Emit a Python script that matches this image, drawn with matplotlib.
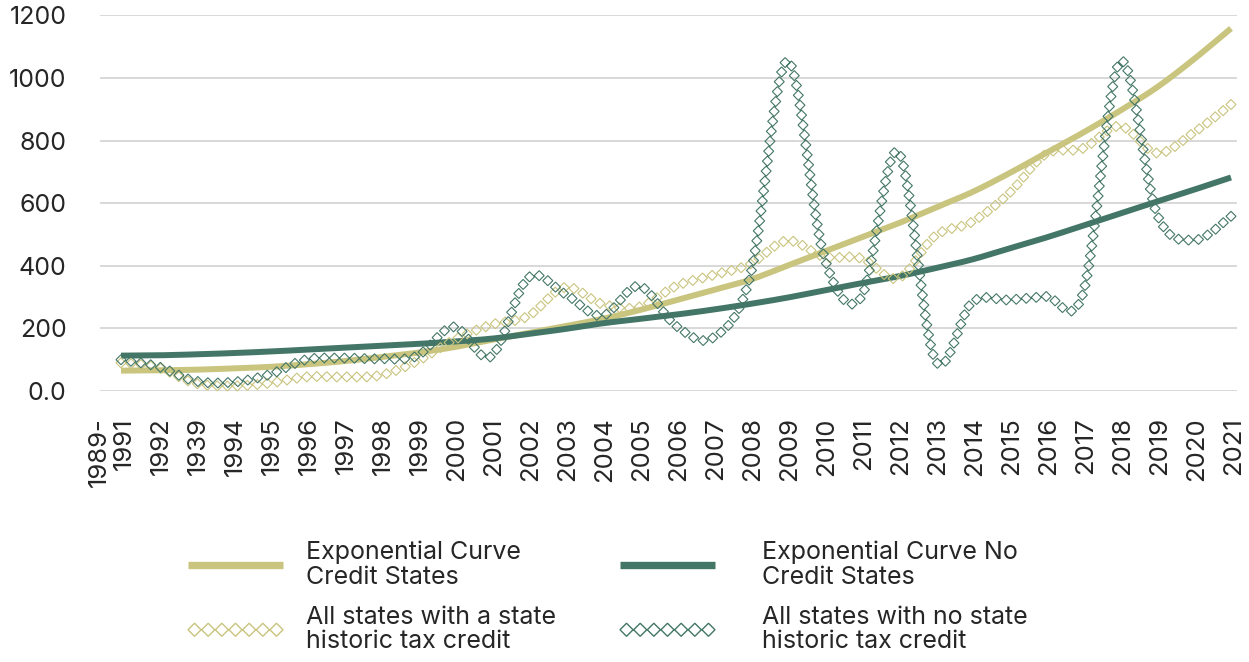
import matplotlib
matplotlib.use("Agg")
import matplotlib.pyplot as plt
import matplotlib.patheffects as pe
import numpy as np
from matplotlib.lines import Line2D
from matplotlib.path import Path
from matplotlib.transforms import IdentityTransform, ScaledTranslation

plt.rcParams['font.family'] = ['Inter', 'DejaVu Sans']

years = ['1989-\n1991', '1992', '1939', '1994', '1995', '1996', '1997', '1998', '1999',
         '2000', '2001', '2002', '2003', '2004', '2005', '2006', '2007', '2008', '2009',
         '2010', '2011', '2012', '2013', '2014', '2015', '2016', '2017', '2018', '2019',
         '2020', '2021']

credit_states = [90, 75, 25, 16, 25, 45, 45, 50, 95, 163, 211, 239, 331, 278, 268, 335,
                 370, 405, 480, 429, 424, 360, 495, 540, 631, 757, 775, 846, 760, 826, 915]
no_credit_states = [100, 78, 32, 28, 52, 100, 105, 103, 112, 205, 110, 361, 310, 240, 335,
                    208, 170, 365, 1055, 430, 298, 765, 100, 283, 291, 302, 312, 1052, 565,
                    482, 558]
exp_credit = [65, 66, 68, 72, 77, 85, 95, 108, 122, 140, 163, 185, 207, 230, 258, 290, 322,
              355, 400, 445, 490, 535, 585, 635, 695, 760, 825, 895, 970, 1060, 1158]
exp_no_credit = [113, 114, 117, 121, 126, 132, 138, 144, 150, 158, 167, 182, 198, 216, 230,
                 244, 260, 278, 298, 321, 344, 366, 392, 420, 455, 490, 528, 567, 605, 643, 682]

y_ticks = [0, 200, 400, 600, 800, 1000, 1200]
y_labels = ['0.0', '200', '400', '600', '800', '1000', '1200']

KHAKI = '#C9C47E'
GREEN = '#437666'


def smooth_xy(xy, n=24):
    # catmull-rom through the display points, like excel's smoothed line
    p = np.vstack([xy[0], xy, xy[-1]])
    t = np.linspace(0, 1, n, endpoint=False)[:, None]
    h00 = 2 * t ** 3 - 3 * t ** 2 + 1
    h10 = t ** 3 - 2 * t ** 2 + t
    h01 = -2 * t ** 3 + 3 * t ** 2
    h11 = t ** 3 - t ** 2
    out = []
    for k in range(1, len(p) - 2):
        m1 = (p[k + 1] - p[k - 1]) / 2
        m2 = (p[k + 2] - p[k]) / 2
        out.append(h00 * p[k] + h10 * m1 + h01 * p[k + 1] + h11 * m2)
    out.append(xy[-1:])
    return np.vstack(out)


class SmoothStroke(pe.AbstractPathEffect):
    def draw_path(self, renderer, gc, tpath, affine, rgbFace=None):
        xy = smooth_xy(affine.transform(tpath.vertices))
        renderer.draw_path(gc, Path(xy), IdentityTransform(), None)


class DiamondChain(pe.AbstractPathEffect):
    def __init__(self, size=7.2, step=7.2, lw=0.8, fit=False):
        super().__init__()
        self.size, self.step, self.lw, self.fit = size, step, lw, fit

    def draw_path(self, renderer, gc, tpath, affine, rgbFace=None):
        xy = smooth_xy(affine.transform(tpath.vertices))
        px = renderer.points_to_pixels(1.0)
        r = self.size * px / 2
        s = np.concatenate([[0], np.cumsum(np.hypot(*np.diff(xy, axis=0).T))])
        if self.fit:
            n = int((s[-1] - 2 * r) // (self.step * px)) + 1
            d = np.linspace(r, s[-1] - r, n)
        else:
            n = int(s[-1] // (self.step * px)) + 1
            d = np.linspace(0, s[-1], n)
        c = np.column_stack([np.interp(d, s, xy[:, 0]), np.interp(d, s, xy[:, 1])])
        unit = np.array([[0, r], [r, 0], [0, -r], [-r, 0], [0, r]])
        verts = (c[:, None, :] + unit[None]).reshape(-1, 2)
        codes = np.tile([Path.MOVETO, Path.LINETO, Path.LINETO, Path.LINETO, Path.CLOSEPOLY], len(c))
        gc0 = renderer.new_gc()
        gc0.copy_properties(gc)
        gc0.set_linewidth(self.lw)
        gc0.set_joinstyle('miter')
        renderer.draw_path(gc0, Path(verts, codes), IdentityTransform(), None)
        gc0.restore()


fig = plt.figure(figsize=(12.49, 6.62), dpi=100)
ax = fig.add_axes([100 / 1249, 1 - 391 / 662, 1137 / 1249, 375.7 / 662])

x = np.arange(len(years))
ax.plot(x, exp_credit, color=KHAKI, lw=4.3, solid_capstyle='butt', zorder=2,
        path_effects=[SmoothStroke()])
ax.plot(x, exp_no_credit, color=GREEN, lw=4.3, solid_capstyle='butt', zorder=2.1,
        path_effects=[SmoothStroke()])
ax.plot(x, credit_states, color=KHAKI, zorder=3, clip_on=False, path_effects=[DiamondChain()])
ax.plot(x, no_credit_states, color=GREEN, zorder=3.1, clip_on=False, path_effects=[DiamondChain()])

ax.set_xlim(-21 / 37, 30 + 6 / 37)
ax.set_ylim(0, 1200)
ax.set_yticks(y_ticks, y_labels, fontsize=18, color='#262626')
ax.set_xticks(x, years, rotation=90, fontsize=18.5, color='#262626', va='top', ha='center',
              multialignment='right', linespacing=1.08)
ax.tick_params(length=0)
ax.tick_params(axis='y', pad=24)
ax.tick_params(axis='x', pad=0)
for i, lbl in enumerate(ax.get_xticklabels()):
    dx = -9 if i == 0 else 3
    lbl.set_transform(lbl.get_transform() + ScaledTranslation(dx / 100, -26 / 100, fig.dpi_scale_trans))

ax.yaxis.grid(True, color='#D2D2D2', lw=1.2)
ax.set_axisbelow(True)
for sp in ax.spines.values():
    sp.set_visible(False)

h_exp_c = Line2D([], [], color=KHAKI, lw=5.3, solid_capstyle='butt', path_effects=[SmoothStroke()])
h_exp_n = Line2D([], [], color=GREEN, lw=5.3, solid_capstyle='butt', path_effects=[SmoothStroke()])
h_dia_c = Line2D([], [], color=KHAKI, path_effects=[DiamondChain(9.4, 9.8, 1.0, fit=True)])
h_dia_n = Line2D([], [], color=GREEN, path_effects=[DiamondChain(9.4, 9.8, 1.0, fit=True)])

common = dict(loc='center left', frameon=False, fontsize=18, borderpad=0, borderaxespad=0,
              handlelength=3.8, labelspacing=0.67, bbox_transform=fig.transFigure)
leg1 = fig.legend([h_exp_c, h_dia_c], ['Exponential Curve\nCredit States',
                                       'All states with a state\nhistoric tax credit'],
                  bbox_to_anchor=(188 / 1249, 1 - 597 / 662), handletextpad=0.92, **common)
leg2 = fig.legend([h_exp_n, h_dia_n], ['Exponential Curve No\nCredit States',
                                       'All states with no state\nhistoric tax credit'],
                  bbox_to_anchor=(620 / 1249, 1 - 597 / 662), handletextpad=1.88, **common)
for leg in (leg1, leg2):
    for t in leg.get_texts():
        t.set_linespacing(1.1)
        t.set_color('#262626')

fig.savefig('out.png', dpi=100)
